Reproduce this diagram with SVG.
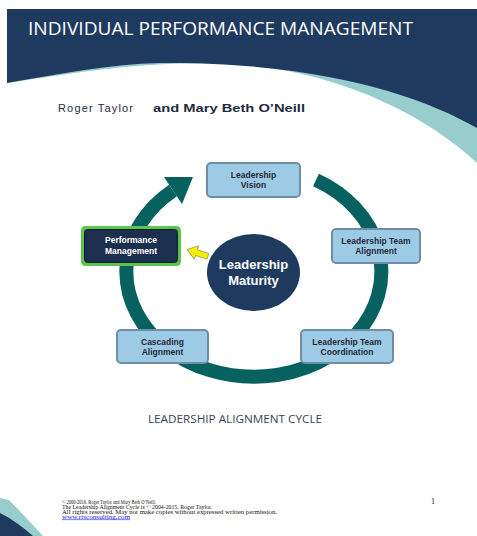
<svg xmlns="http://www.w3.org/2000/svg" width="477" height="536" viewBox="0 0 477 536">
<defs>
<style>
.box{fill:#9dcbe6;stroke:#6f8da3;stroke-width:2}
.lbl{font-family:"Liberation Sans",Arial,sans-serif;font-weight:bold;font-size:8.5px;fill:#1f2a36;text-anchor:middle}
.foot{font-family:"Liberation Serif","Times New Roman",serif;font-size:5.8px;fill:#111}
</style>
</defs>
<rect width="477" height="536" fill="#ffffff"/>
<!-- header -->
<path d="M7,83 C80,72 130,64 200,63 C320,62 420,110 477,163 V9 H7 Z" fill="#97cdcc"/>
<path d="M7,9 H477 V128 C420,95 320,62 160,63 C110,64 60,74 7,83 Z" fill="#1e3a5f"/>
<text x="28" y="35" font-family="'Open Sans',sans-serif" font-size="19" fill="#ffffff" textLength="385" lengthAdjust="spacingAndGlyphs">INDIVIDUAL PERFORMANCE MANAGEMENT</text>
<text x="58" y="112" font-family="'Liberation Sans',Arial,sans-serif" font-size="11" fill="#1e2a3e" textLength="75" lengthAdjust="spacing">Roger Taylor</text>
<text x="153" y="112" font-family="'Liberation Sans',Arial,sans-serif" font-size="11.5" font-weight="bold" fill="#1e2a3e" textLength="152" lengthAdjust="spacingAndGlyphs">and Mary Beth O’Neill</text>
<!-- bottom-left corner -->
<path d="M0,498 L9,500 C20,511 32,524 43,536 H0 Z" fill="#97cdcc"/>
<path d="M0,513 C12,519 23,527 33,536 H0 Z" fill="#1e3a5f"/>
<!-- connectors -->
<g id="connectors">
<path d="M316,180 A127.5,105 0 1 1 173,190.5" fill="none" stroke="#07625f" stroke-width="14"/>
<polygon points="193,177 182,204 164,177" fill="#07625f"/>
<polygon points="0,0 10,-7 10,-3 22,-3 22,3 10,3 10,7" transform="translate(187,249.5) rotate(18)" fill="#f4ef00" stroke="#9a9a60" stroke-width="0.8"/>
</g>
<!-- nodes -->
<g id="maturity">
<ellipse cx="253.5" cy="272.5" rx="46.5" ry="38.5" fill="#1f3a5f"/>
<text x="253.5" y="269" font-family="'Liberation Sans',Arial,sans-serif" font-weight="bold" font-size="13" fill="#ffffff" text-anchor="middle">Leadership</text>
<text x="253.5" y="285" font-family="'Liberation Sans',Arial,sans-serif" font-weight="bold" font-size="13" fill="#ffffff" text-anchor="middle">Maturity</text>
</g>
<g id="vision">
<rect class="box" x="207" y="163" width="93" height="34" rx="4"/>
<text class="lbl" x="253.5" y="177.5">Leadership</text>
<text class="lbl" x="253.5" y="188">Vision</text>
</g>
<g id="performance">
<rect x="81" y="226" width="100" height="40" rx="4.5" fill="#5bc64a"/>
<rect x="84.5" y="229.5" width="93" height="33" rx="3" fill="#1d2f4f" stroke="#0e1a30" stroke-width="1"/>
<text class="lbl" x="131" y="243" style="fill:#ffffff">Performance</text>
<text class="lbl" x="131" y="253.5" style="fill:#ffffff">Management</text>
</g>
<g id="alignment">
<rect class="box" x="332" y="229" width="88" height="34" rx="4"/>
<text class="lbl" x="376" y="244">Leadership Team</text>
<text class="lbl" x="376" y="254">Alignment</text>
</g>
<g id="coordination">
<rect class="box" x="301" y="330" width="92" height="33" rx="4"/>
<text class="lbl" x="347" y="344.5">Leadership Team</text>
<text class="lbl" x="347" y="354.5">Coordination</text>
</g>
<g id="cascading">
<rect class="box" x="117" y="330" width="91" height="33" rx="4"/>
<text class="lbl" x="162.5" y="344.5">Cascading</text>
<text class="lbl" x="162.5" y="354.5">Alignment</text>
</g>
<text x="148" y="423" font-family="'Open Sans',sans-serif" font-size="10" fill="#34445e" textLength="174" lengthAdjust="spacingAndGlyphs">LEADERSHIP ALIGNMENT CYCLE</text>
<!-- footer -->
<text class="foot" x="62" y="503.5" textLength="94" lengthAdjust="spacingAndGlyphs">© 2000-2016. Roger Taylor and Mary Beth O’Neill.</text>
<text class="foot" x="62" y="508.5" textLength="150" lengthAdjust="spacingAndGlyphs">The Leadership Alignment Cycle is © 2004-2015, Roger Taylor.</text>
<text class="foot" x="62" y="513.5" textLength="215" lengthAdjust="spacingAndGlyphs">All rights reserved. May not make copies without expressed written permission.</text>
<text class="foot" x="62" y="518.5" style="fill:#1a1aee" text-decoration="underline" textLength="68" lengthAdjust="spacingAndGlyphs">www.rtsconsulting.com</text>
<text x="431" y="504" font-family="'Liberation Serif','Times New Roman',serif" font-size="8" fill="#111">1</text>
</svg>
